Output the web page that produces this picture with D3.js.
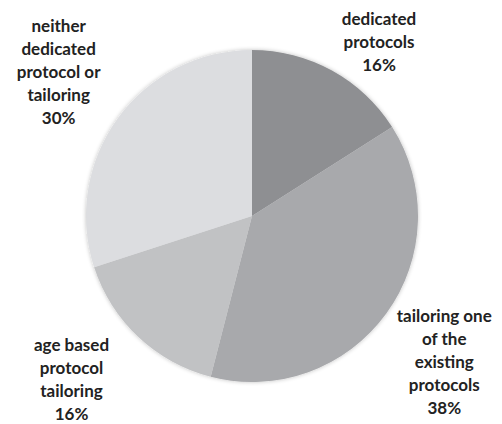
<!DOCTYPE html>
<html lang="en">
<head>
  <meta charset="UTF-8">
  <script src="https://cdn.jsdelivr.net/npm/d3@7"></script>
  <title>Pie</title>
  <style>
    body { margin: 0; background: #fff; }
    text { font-family: Lato, "Open Sans", sans-serif; font-weight: bold; font-size: 17px; fill: #222; }
  </style>
</head>
<body>
  <svg width="502" height="424"></svg>
  <script>
    // data
    var categories = ["dedicated\nprotocols", "tailoring one\nof the\nexisting\nprotocols", "age based\nprotocol\ntailoring", "neither\ndedicated\nprotocol or\ntailoring"];
    var values = [16, 38, 16, 30];
    var colors = ["#8e8f92", "#a8a9ac", "#c1c2c4", "#dcdde0"];

    var svg = d3.select("svg");
    var cx = 252, cy = 216, r = 166;
    var g = svg.append("g").attr("transform", `translate(${cx},${cy})`);

    var pie = d3.pie().sort(null).value(d => d.v);
    var arcs = pie(values.map((v, i) => ({ v: v, name: categories[i], i: i })));
    var arc = d3.arc().innerRadius(0).outerRadius(r);

    // soft edge shadow
    var defs = svg.append("defs");
    var f = defs.append("filter").attr("id", "sh").attr("x", "-10%").attr("y", "-10%").attr("width", "120%").attr("height", "120%");
    f.append("feGaussianBlur").attr("in", "SourceAlpha").attr("stdDeviation", 2);
    f.append("feComponentTransfer").append("feFuncA").attr("type", "linear").attr("slope", 0.25);
    var m = f.append("feMerge");
    m.append("feMergeNode");
    m.append("feMergeNode").attr("in", "SourceGraphic");

    g.append("g").attr("filter", "url(#sh)")
      .selectAll("path")
      .data(arcs)
      .enter()
      .append("path")
      .attr("d", arc)
      .attr("fill", d => colors[d.data.i]);

    // label distance from center, per slice, and angle nudge (deg)
    var labelR = [212, 244, 246, 239];
    var nudge = [8, 2, 4, 0];

    var lineH = 23;
    arcs.forEach(function (d, i) {
      var a = (d.startAngle + d.endAngle) / 2 + nudge[i] * Math.PI / 180;
      var x = Math.sin(a) * labelR[i];
      var y = -Math.cos(a) * labelR[i];
      var lines = d.data.name.split("\n").concat([values[i] + "%"]);
      var y0 = y - (lines.length - 1) * lineH / 2 + 2;
      var t = g.append("text").attr("text-anchor", "middle");
      lines.forEach(function (l, k) {
        t.append("tspan").attr("x", x).attr("y", y0 + k * lineH).text(l);
      });
    });
  </script>
</body>
</html>
